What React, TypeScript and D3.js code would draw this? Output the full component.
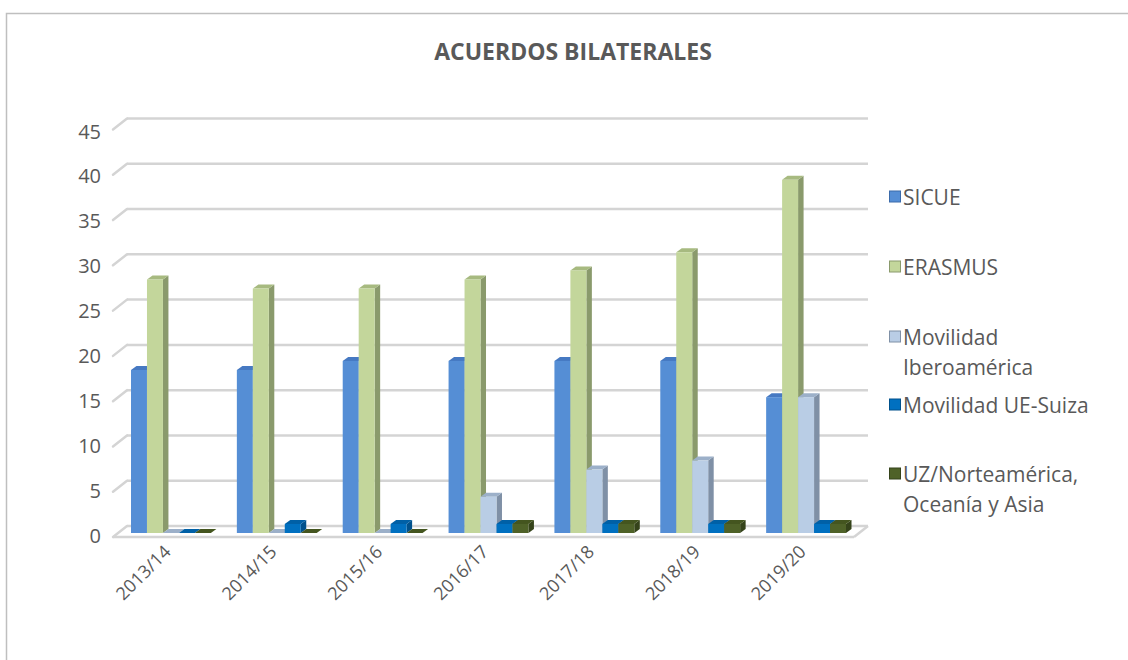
import React from "react";
import * as d3 from "d3";

const categories = ["2013/14", "2014/15", "2015/16", "2016/17", "2017/18", "2018/19", "2019/20"];
const seriesNames = ["SICUE", "ERASMUS", "Movilidad Iberoamérica", "Movilidad UE-Suiza", "UZ/Norteamérica, Oceanía y Asia"];
const sicue = [18, 18, 19, 19, 19, 19, 15];
const erasmus = [28, 27, 27, 28, 29, 31, 39];
const iberoamerica = [0, 0, 0, 4, 7, 8, 15];
const ueSuiza = [0, 1, 1, 1, 1, 1, 1];
const uzNorteamerica = [0, 0, 0, 1, 1, 1, 1];
const yTicks = [0, 5, 10, 15, 20, 25, 30, 35, 40, 45];
const legendLines = [["SICUE"], ["ERASMUS"], ["Movilidad", "Iberoamérica"], ["Movilidad UE-Suiza"], ["UZ/Norteamérica,", "Oceanía y Asia"]];

const seriesValues = [sicue, erasmus, iberoamerica, ueSuiza, uzNorteamerica];
const colors = [
  { front: "#558ED5", side: "#3B6BAA", top: "#4679C2" },
  { front: "#C3D69B", side: "#8A9A6C", top: "#A7BA80" },
  { front: "#B9CDE5", side: "#7F90A6", top: "#9CB0C9" },
  { front: "#0070C0", side: "#00518C", top: "#0060A6" },
  { front: "#4F6228", side: "#35431A", top: "#44551F" },
];

const FONT = "'Open Sans', 'Noto Sans', sans-serif";
const TEXT = "#595959";
const GRID = "#D4D4D4";

export default function App() {
  const depthX = 14;
  const depthY = 11;
  const backBase = 526;
  const yBack = d3.scaleLinear().domain([0, 45]).range([backBase, backBase - 407.5]);
  const yBar = d3.scaleLinear().domain([0, 45]).range([533, 533 - 407.5]);
  const yLabel = d3.scaleLinear().domain([0, 45]).range([535, 131]);
  const backLeft = 127;
  const backRight = 868;

  const x0 = d3.scaleBand().domain(categories).range([118, 859]).padding(0);
  const x1 = d3.scaleBand().domain(seriesNames).range([13, x0.bandwidth() - 13]).padding(0);
  const bw = x1.bandwidth();
  const sdx = 5.5;
  const sdy = 4;

  const bars: JSX.Element[] = [];
  categories.forEach((c, ci) => {
    seriesNames.forEach((s, si) => {
      const v = seriesValues[si][ci];
      const x = (x0(c) as number) + (x1(s) as number);
      const top = yBar(v);
      const bot = yBar(0);
      const col = colors[si];
      bars.push(
        <g key={`${ci}-${si}`}>
          <path
            d={`M${x + bw},${top} L${x + bw + sdx},${top - sdy} L${x + bw + sdx},${bot - sdy} L${x + bw},${bot} Z`}
            fill={col.side}
          />
          <path
            d={`M${x},${top} L${x + sdx},${top - sdy} L${x + bw + sdx},${top - sdy} L${x + bw},${top} Z`}
            fill={col.top}
          />
          {v > 0 && <rect x={x} y={top} width={bw} height={bot - top} fill={col.front} />}
        </g>
      );
    });
  });

  const legendY = [197, 267, 337, 405, 474];

  return (
    <svg
      width={1128}
      height={660}
      style={{ position: "absolute", left: 0, top: 0, background: "#fff" }}
      fontFamily={FONT}
    >
      <rect x={6.5} y={13.5} width={1300} height={800} fill="#fff" stroke="#BFBFBF" strokeWidth={1.5} />
      <text x={573} y={60} textAnchor="middle" fontSize={23} fontWeight="bold" fill={TEXT}>
        ACUERDOS BILATERALES
      </text>

      {/* gridlines: back wall + side wall */}
      {yTicks.map((t) => (
        <g key={t}>
          <line x1={backLeft} x2={backRight} y1={yBack(t)} y2={yBack(t)} stroke={GRID} strokeWidth={2.5} />
          <line
            x1={backLeft - depthX}
            y1={yBack(t) + depthY}
            x2={backLeft}
            y2={yBack(t)}
            stroke={GRID}
            strokeWidth={2.5}
            strokeLinecap="round"
          />
          <text x={101} y={yLabel(t)} textAnchor="end" dominantBaseline="central" fontSize={20} fill={TEXT}>
            {t}
          </text>
        </g>
      ))}

      {/* floor front edge */}
      <line
        x1={backLeft - depthX}
        x2={backRight - depthX}
        y1={backBase + depthY}
        y2={backBase + depthY}
        stroke={GRID}
        strokeWidth={2.5}
      />
      <line
        x1={backRight - depthX}
        y1={backBase + depthY}
        x2={backRight}
        y2={backBase}
        stroke={GRID}
        strokeWidth={2.5}
      />

      {bars}

      {categories.map((c) => {
        const cx = (x0(c) as number) + x0.bandwidth() / 2;
        return (
          <text
            key={c}
            transform={`translate(${cx + 1},${553}) rotate(-45)`}
            textAnchor="end"
            fontSize={18}
            fill={TEXT}
          >
            {c}
          </text>
        );
      })}

      {legendLines.map((lines, i) => (
        <g key={i}>
          <rect
            x={889.5}
            y={legendY[i] - 6}
            width={11}
            height={11}
            fill={colors[i].front}
            stroke={colors[i].side}
            strokeWidth={1}
          />
          {lines.map((l, li) => (
            <text
              key={li}
              x={903}
              y={legendY[i] + li * 30}
              dominantBaseline="central"
              fontSize={21}
              fill={TEXT}
            >
              {l}
            </text>
          ))}
        </g>
      ))}
    </svg>
  );
}
